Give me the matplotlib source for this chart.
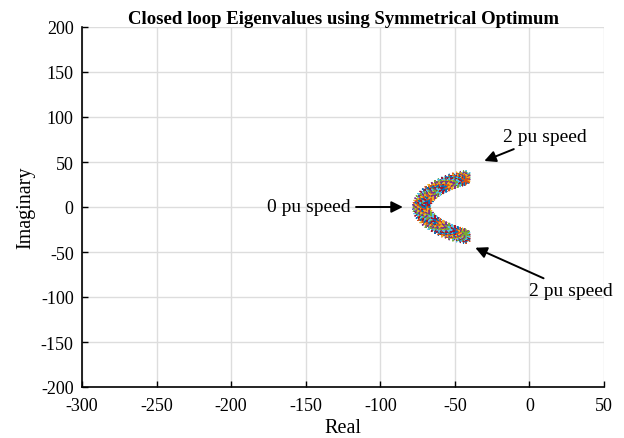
import matplotlib
matplotlib.use("Agg")
import matplotlib.pyplot as plt
import numpy as np

plt.rcParams['font.family'] = ['Liberation Serif', 'DejaVu Serif']
plt.rcParams['axes.unicode_minus'] = False

# Upper-half closed-loop eigenvalues over the speed sweep (0 pu at the left
# vertex, 2 pu at the right end), one trace per operating point.
# The lower half is drawn as the complex conjugate.
re_traces = [
    [-75.5, -75.3, -74.8, -74.2, -73.3, -72.2, -70.8, -69.2, -67.4, -65.4,
     -63.2, -61.0, -58.7, -56.3, -53.8, -51.3, -48.8, -46.3, -44.2, -42.5],
    [-74.0, -73.8, -73.3, -72.6, -71.7, -70.6, -69.3, -67.7, -65.9, -63.9,
     -61.8, -59.6, -57.3, -55.0, -52.6, -50.2, -47.9, -45.7, -43.9, -42.6],
    [-72.5, -72.3, -71.8, -71.1, -70.2, -69.1, -67.8, -66.2, -64.4, -62.5,
     -60.4, -58.2, -56.0, -53.7, -51.4, -49.1, -47.0, -45.0, -43.6, -42.5],
    [-71.0, -70.8, -70.3, -69.6, -68.7, -67.6, -66.3, -64.8, -63.0, -61.1,
     -59.1, -57.0, -54.9, -52.8, -50.6, -48.5, -46.6, -44.9, -43.6, -42.6],
    [-69.5, -69.3, -68.8, -68.1, -67.2, -66.1, -64.8, -63.3, -61.6, -59.8,
     -57.9, -55.9, -53.9, -51.9, -49.9, -48.0, -46.3, -44.8, -43.6, -42.8],
]
im_traces = [
    [0, 2.5, 5.0, 7.5, 10.0, 12.5, 15.0, 17.5, 20.0, 22.3,
     24.5, 26.5, 28.3, 30.0, 31.5, 32.8, 33.8, 34.6, 35.2, 35.5],
    [0, 2.4, 4.8, 7.2, 9.6, 12.0, 14.4, 16.7, 19.0, 21.3,
     23.4, 25.4, 27.1, 28.7, 30.1, 31.4, 32.4, 33.2, 33.8, 34.1],
    [0, 2.3, 4.6, 6.9, 9.2, 11.5, 13.8, 16.0, 18.2, 20.4,
     22.4, 24.3, 26.0, 27.5, 28.8, 30.0, 31.0, 31.8, 32.4, 32.8],
    [0, 2.2, 4.4, 6.6, 8.8, 10.9, 13.1, 15.2, 17.2, 19.2,
     21.1, 22.8, 24.4, 25.9, 27.2, 28.3, 29.3, 30.1, 30.7, 31.1],
    [0, 2.1, 4.2, 6.3, 8.4, 10.4, 12.4, 14.4, 16.3, 18.1,
     19.8, 21.4, 22.9, 24.3, 25.5, 26.6, 27.6, 28.4, 29.0, 29.4],
]

colors = ['#0072BD', '#D95319', '#EDB120', '#7E2F8E', '#77AC30', '#4DBEEE', '#A2142F']
asterisk = (6, 2, 0)

fig = plt.figure(figsize=(6.24, 4.39), dpi=100)
ax = fig.add_axes([82 / 624, 1 - 388 / 439, 522 / 624, 360 / 439])

k = 0
for re, im in zip(re_traces, im_traces):
    re = np.array(re)
    im = np.array(im)
    for sgn in (1, -1):
        cols = [colors[(k + i) % len(colors)] for i in range(len(re))]
        ax.scatter(re, sgn * im, marker=asterisk, s=40, c=cols,
                   linewidths=0.9, zorder=3)
        k += 3

ax.set_xlim(-300, 50)
ax.set_ylim(-200, 200)
ax.set_xticks(np.arange(-300, 51, 50))
ax.set_yticks(np.arange(-200, 201, 50))
ax.grid(True, color='#dddddd', linewidth=1)
ax.set_axisbelow(True)
ax.spines['top'].set_visible(False)
ax.spines['right'].set_visible(False)
ax.spines['left'].set_linewidth(1.2)
ax.spines['bottom'].set_linewidth(1.2)
ax.tick_params(direction='in', labelsize=13, length=4, width=1)
ax.tick_params(axis='x', pad=7)
ax.tick_params(axis='y', pad=6)

ax.set_xlabel('Real', fontsize=14.5, labelpad=3)
ax.set_ylabel('Imaginary', fontsize=14.5, labelpad=4)
ax.set_title('Closed loop Eigenvalues using Symmetrical Optimum',
             fontsize=13.5, fontweight='bold', pad=1)

arrow = dict(arrowstyle='-|>', color='black', lw=1.4, mutation_scale=17)
ax.annotate('0 pu speed', xy=(-83, 0), xytext=(-120, 0), fontsize=14,
            ha='right', va='center', arrowprops=arrow)
ax.annotate('2 pu speed', xy=(-32, 50), xytext=(-18, 78), fontsize=14,
            ha='left', va='center', arrowprops=arrow)
ax.annotate('2 pu speed', xy=(-38, -44), xytext=(0, -93), fontsize=14,
            ha='left', va='center', arrowprops=arrow, annotation_clip=False)

fig.savefig('out.png', dpi=100)
